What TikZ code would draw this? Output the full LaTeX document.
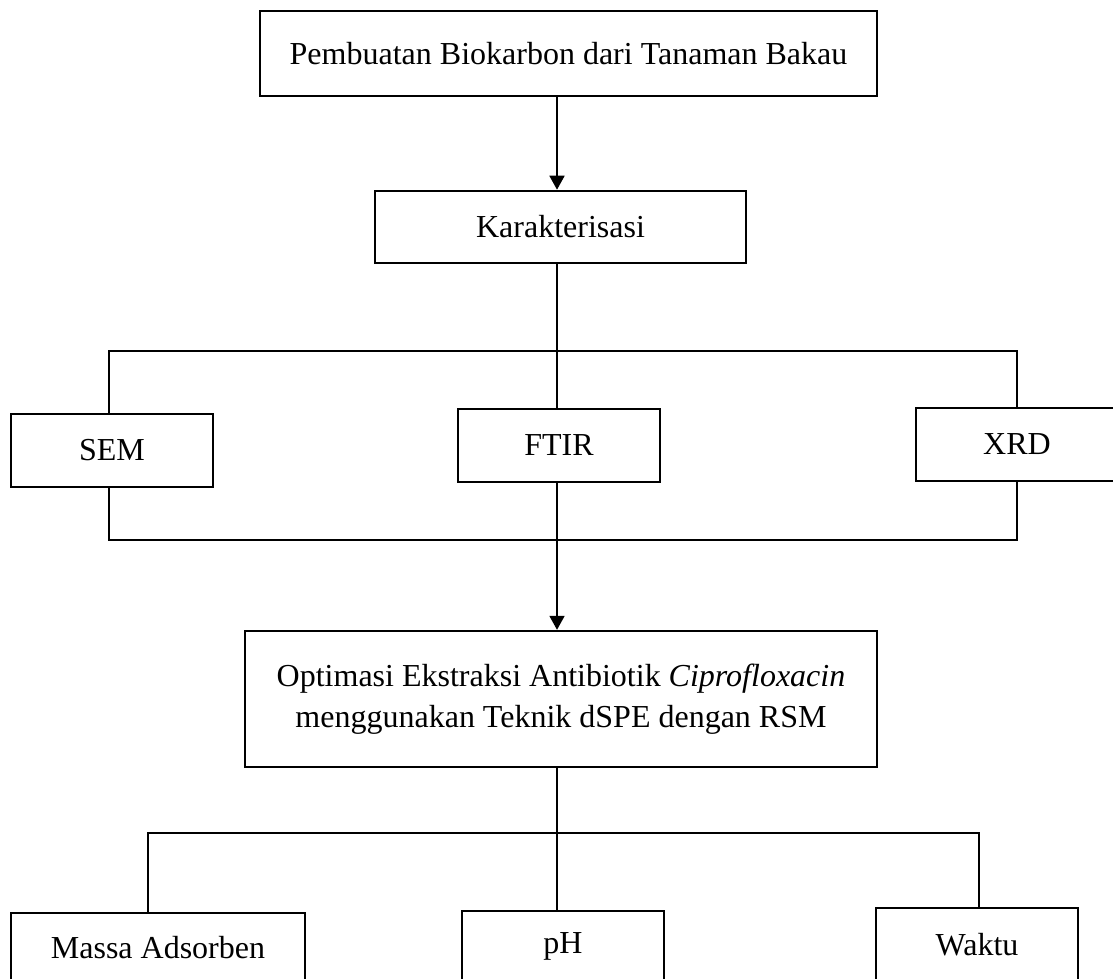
\documentclass[tikz,border=0pt]{standalone}
\usepackage{fontspec}
\setmainfont{Liberation Serif}
\usetikzlibrary{arrows.meta}
\begin{document}
\begin{tikzpicture}[x=1pt,y=-1pt,
  box/.style={draw=black,line width=2pt,rectangle,inner sep=0pt,align=center,
    font=\fontsize{32}{41}\selectfont},
  conn/.style={draw=black,line width=1.8pt},
  arr/.style={conn,-{Triangle[length=14pt,width=15pt]}}]
\useasboundingbox (0,0) rectangle (1113,978);
\begin{scope}
\clip (0,0) rectangle (1113,978);
\node[box,line width=1.3pt,minimum width=617pt,minimum height=85pt] (top) at (568.5,53.5) {Pembuatan Biokarbon dari Tanaman Bakau};
\node[box,line width=2.6pt,minimum width=371pt,minimum height=72pt] (kar) at (560.5,227) {Karakterisasi};
\node[box,minimum width=202pt,minimum height=73pt] (sem) at (112,450.5) {SEM};
\node[box,minimum width=202pt,minimum height=73pt] (ftir) at (559,445.5) {FTIR};
\node[box,minimum width=202pt,minimum height=73pt] (xrd) at (1017,444.5) {XRD};
\node[box,line width=2.4pt,minimum width=632pt,minimum height=136pt] (opt) at (561,699) {Optimasi Ekstraksi Antibiotik \textit{Ciprofloxacin}\\menggunakan Teknik dSPE dengan RSM};
\node[box,minimum width=294pt,minimum height=69pt] (massa) at (158,947.5) {Massa Adsorben};
\node[box,minimum width=202pt,minimum height=71pt] (ph) at (563,946.5) {pH};
\node[box,minimum width=202pt,minimum height=74pt] (waktu) at (977,945) {Waktu};
\coordinate (ax) at (557,0);
\coordinate (h1l) at (109,351);
\coordinate (h1r) at (1017,351);
\coordinate (h2l) at (109,540);
\coordinate (h2r) at (1017,540);
\coordinate (h3l) at (148,833);
\coordinate (h3r) at (979,833);
\draw[arr] (top.south -| ax) -- (kar.north -| ax);
\draw[conn] (kar.south -| ax) -- (ftir.north -| ax);
\draw[conn] (sem.north -| h1l) -- (h1l) -- (h1r) -- (xrd.north -| h1r);
\draw[conn] (sem.south -| h2l) -- (h2l) -- (h2r) -- (xrd.south -| h2r);
\draw[arr] (ftir.south -| ax) -- (opt.north -| ax);
\draw[conn] (opt.south -| ax) -- (ph.north -| ax);
\draw[conn] (massa.north -| h3l) -- (h3l) -- (h3r) -- (waktu.north -| h3r);
\end{scope}
\end{tikzpicture}
\end{document}
